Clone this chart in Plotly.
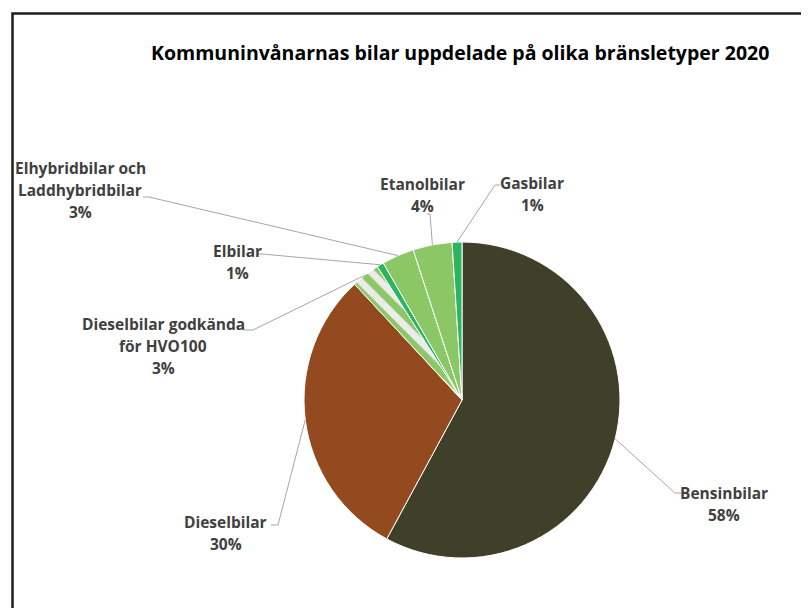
"""
Cirkeldiagram: kommuninvånarnas bilar per bränsletyp 2020
"""

import math
import plotly.graph_objects as go

W, H = 809, 608

# Data (andel i procent)
categories = ["Bensinbilar", "Dieselbilar", "Dieselbilar godkända för HVO100",
              "Elbilar", "Elhybridbilar och Laddhybridbilar", "Etanolbilar", "Gasbilar"]
values = [57.9, 30.2, 2.9, 0.7, 3.3, 4.0, 1.0]
colors = ["#403f29", "#934a1f", "#8bc764", "#2cb55e", "#8bc764", "#8bc764", "#2cb55e"]
title_text = "Kommuninvånarnas bilar uppdelade på olika bränsletyper 2020"

# Radbrytningar för etiketterna
label_lines = {
    "Dieselbilar godkända för HVO100": ["Dieselbilar godkända", "för HVO100"],
    "Elhybridbilar och Laddhybridbilar": ["Elhybridbilar och", "Laddhybridbilar"],
}

# Sidans kroppsmarginal i webbläsaren (fönsterpixlar -> figurpixlar)
OFF = 8

# Cirkelns placering i fönsterpixlar
CX, CY, R = 462, 400, 158

# Etikettplacering: (textens mittpunkt x, första radens y, knä x, knä y, tick-slut x)
label_pos = {
    "Bensinbilar": (724, 493, 675, 493, 681),
    "Dieselbilar": (226, 522, 278, 525, 271),
    "Dieselbilar godkända för HVO100": (163, 324, 253, 330, 244),
    "Elbilar": (237, 251, 262, 254, 257),
    "Elhybridbilar och Laddhybridbilar": (80, 168, 149, 197, 143),
    "Etanolbilar": (423, 184, 430, 214, 427),
    "Gasbilar": (532, 183, 495, 185, 500),
}

LINE_H = 22
FONT = "'Open Sans', 'Noto Sans', sans-serif"


def px(x):
    return (x - OFF) / W


def py(y):
    return 1 - (y - OFF) / H


fig = go.Figure()

fig.add_trace(go.Pie(
    labels=categories,
    values=values,
    sort=False,
    direction="clockwise",
    rotation=0,
    textinfo="none",
    hoverinfo="label+percent",
    marker=dict(
        colors=colors,
        line=dict(color="white", width=1),
        pattern=dict(
            shape=["", "", "\\", "", "", "", ""],
            fgcolor="#ebebeb",
            bgcolor=colors,
            fillmode="replace",
            size=14,
            solidity=0.5,
        ),
    ),
    domain=dict(x=[px(CX - R), px(CX + R)], y=[py(CY + R), py(CY - R)]),
    showlegend=False,
))

annotations = []
shapes = []

# Etiketter och hänvisningslinjer, ankrade i respektive sektors mitt
total = sum(values)
cum = 0.0
for name, v in zip(categories, values):
    mid = (cum + v / 2) / total * 2 * math.pi
    cum += v
    ax_ = CX + R * math.sin(mid)
    ay_ = CY - R * math.cos(mid)

    tx, ty, ex, ey, tk = label_pos[name]
    lines = label_lines.get(name, [name]) + [f"{round(v / total * 100)}%"]
    for i, line in enumerate(lines):
        annotations.append(dict(
            x=px(tx), y=py(ty + i * LINE_H), xref="paper", yref="paper",
            text=f"<b>{line}</b>", showarrow=False,
            xanchor="center", yanchor="middle",
            font=dict(family=FONT, size=15.5, color="#404040"),
        ))

    shapes.append(dict(
        type="path", xref="paper", yref="paper",
        path=f"M {px(ax_)},{py(ay_)} L {px(ex)},{py(ey)} L {px(tk)},{py(ey)}",
        line=dict(color="#a6a6a6", width=1),
    ))

# Titel
annotations.append(dict(
    x=px(460), y=py(52), xref="paper", yref="paper",
    text=f"<b>{title_text}</b>", showarrow=False,
    xanchor="center", yanchor="middle",
    font=dict(family=FONT, size=19.5, color="black"),
))

# Ram kring diagrammet
shapes.append(dict(
    type="rect", xref="paper", yref="paper",
    x0=px(12.5), x1=px(W + 30), y0=py(H + 30), y1=py(13.5),
    line=dict(color="#1e1e1e", width=2.5),
    fillcolor="rgba(0,0,0,0)",
))

fig.update_layout(
    width=W,
    height=H,
    margin=dict(l=0, r=0, t=0, b=0),
    paper_bgcolor="white",
    plot_bgcolor="white",
    annotations=annotations,
    shapes=shapes,
)

fig.write_html("out.html")
